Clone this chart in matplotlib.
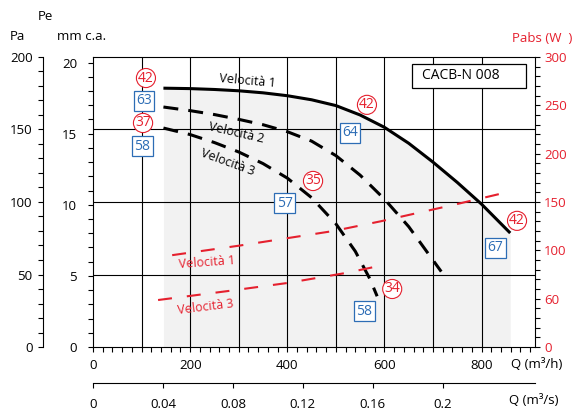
import matplotlib
matplotlib.use("Agg")
import matplotlib.pyplot as plt
from matplotlib.ticker import MultipleLocator
from matplotlib.patches import Rectangle

plt.rcParams['font.family'] = ['Open Sans', 'DejaVu Sans']

# pressure curves: flow (m3/h) vs Pe (Pa)
q_v1 = [145, 200, 250, 300, 350, 400, 450, 500, 550, 600, 650, 700, 750, 800, 859]
pe_v1 = [178.5, 178.2, 177.6, 176.7, 175.3, 173.3, 170.5, 166.5, 160, 151.5, 140.5,
         127.5, 113.5, 98.5, 78.6]
q_v2 = [145, 200, 250, 300, 350, 400, 450, 500, 550, 600, 650, 717]
pe_v2 = [165.5, 163, 160.3, 157, 153.3, 148.5, 142, 132, 118.5, 102, 83, 52]
q_v3 = [145, 200, 250, 300, 350, 400, 450, 500, 540, 570, 585]
pe_v3 = [151, 146.5, 141, 134.5, 126.5, 116.5, 103, 85, 66, 47, 35]

# absorbed power curves (right scale)
q_p1 = [163, 303, 495, 592, 680, 742, 843]
p_p1 = [95, 105, 120, 130, 140, 147, 159]
q_p3 = [134, 278, 400, 523, 581]
p_p3 = [48.6, 57.9, 66.2, 76.8, 83]

right_ticks = [0, 50, 100, 150, 200, 250, 300]
right_labels = ['0', '60', '100', '150', '200', '250', '300']
q_s_ticks = [0, 0.04, 0.08, 0.12, 0.16, 0.2]
q_s_labels = ['0', '0.04', '0.08', '0.12', '0.16', '0.2']

# noise level markers and sound markers
circles = [("42", 109, 185.5), ("37", 103, 154.5), ("35", 453, 114.5),
           ("42", 564, 167), ("34", 616, 40), ("42", 873, 87)]
boxes = [("63", 105, 169.7), ("58", 101, 138.6), ("64", 529, 147.6),
         ("57", 395, 99.3), ("67", 828, 68.3), ("58", 558, 24.8)]

RED = '#e5202e'
BLUE = '#2d6db5'
FS = 9.5

W, H = 572, 409
fig = plt.figure(figsize=(W / 100, H / 100), dpi=100)
ax = fig.add_axes([93 / W, 1 - 347 / H, 442 / W, 290 / H])

ax.set_xlim(0, 910)
ax.set_ylim(0, 200)

ax.fill_between(q_v1, pe_v1, 0, color='#f2f2f2', lw=0, zorder=0)
for q in range(100, 900, 100):
    ax.axvline(q, color='black', lw=0.8, zorder=1)
for p in (50, 100, 150):
    ax.axhline(p, color='black', lw=0.8, zorder=1)

ax.plot(q_v1, pe_v1, color='black', lw=2.2, zorder=3, solid_capstyle='butt')
ax.plot(q_v2, pe_v2, color='black', lw=2.2, ls=(0, (4.9, 3.3)), zorder=3)
ax.plot(q_v3, pe_v3, color='black', lw=2.2, ls=(0, (4.9, 3.3)), zorder=3)

# Pa axis, moved out to the left
ax.spines['left'].set_position(('outward', 36))
ax.spines['right'].set_visible(False)
ax.yaxis.set_major_locator(MultipleLocator(50))
ax.yaxis.set_minor_locator(MultipleLocator(10))
ax.xaxis.set_major_locator(MultipleLocator(200))
ax.xaxis.set_minor_locator(MultipleLocator(20))
ax.tick_params(which='both', direction='out', length=3.5, width=0.8, labelsize=FS)
ax.tick_params(axis='y', pad=4)
ax.tick_params(axis='x', pad=5)

# mm c.a. axis
mm = ax.secondary_yaxis(0, functions=(lambda p: p / 9.81, lambda m: m * 9.81))
mm.set_yticks([0, 5, 10, 15, 20])
mm.yaxis.set_minor_locator(MultipleLocator(1))
mm.tick_params(which='both', direction='out', length=3.5, width=0.8, labelsize=FS, pad=8)

# m3/s axis
qs = ax.secondary_xaxis(-0.124, functions=(lambda q: q / 3600, lambda s: s * 3600))
qs.set_xticks(q_s_ticks)
qs.set_xticklabels(q_s_labels)
qs.tick_params(direction='out', length=3.5, width=0.8, labelsize=FS, pad=7)

# power axis
ax3 = ax.twinx()
ax3.set_ylim(0, 300)
ax3.set_yticks(right_ticks)
ax3.set_yticklabels(right_labels)
ax3.yaxis.set_minor_locator(MultipleLocator(10))
ax3.tick_params(which='both', direction='out', length=3.5, width=0.8,
                labelsize=FS, labelcolor=RED, pad=3)
for s in ('left', 'top', 'bottom'):
    ax3.spines[s].set_visible(False)

ax3.plot(q_p1, p_p1, color=RED, lw=1.5, ls=(0, (6.7, 7.2)), zorder=4)
ax3.plot(q_p3, p_p3, color=RED, lw=1.5, ls=(0, (6.7, 7.2)), zorder=4)

tr = ax.transData
ax3.text(317, 183.4, "Velocità 1", transform=tr, fontsize=9, rotation=-5,
         ha='center', va='center')
ax3.text(294.5, 147.6, "Velocità 2", transform=tr, fontsize=9, rotation=-13,
         ha='center', va='center')
ax3.text(278, 127.6, "Velocità 3", transform=tr, fontsize=9, rotation=-20,
         ha='center', va='center')
ax3.text(235, 58, "Velocità 1", transform=tr, fontsize=9, rotation=4,
         ha='center', va='center', color=RED)
ax3.text(231, 27.5, "Velocità 3", transform=tr, fontsize=9, rotation=7,
         ha='center', va='center', color=RED)

for txt, q, p in circles:
    ax3.text(q, p, txt, transform=tr, fontsize=10, color=RED, ha='center', va='center',
             bbox=dict(boxstyle='circle,pad=0.12', fc='white', ec=RED, lw=0.8), zorder=6)
for txt, q, p in boxes:
    ax3.text(q, p, txt, transform=tr, fontsize=10, color=BLUE, ha='center', va='center',
             bbox=dict(boxstyle='square,pad=0.18', fc='white', ec=BLUE, lw=0.9), zorder=6)

ax3.add_patch(Rectangle((657, 178.6), 235, 16.6, transform=tr, fc='white',
                        ec='black', lw=0.9, zorder=6))
ax3.text(757, 187, "CACB-N 008", transform=tr, fontsize=10, ha='center',
         va='center', zorder=7)

def px(x, y):
    return x / W, 1 - y / H

fig.text(*px(45, 17), "Pe", fontsize=FS, ha='center', va='center')
fig.text(*px(17, 37), "Pa", fontsize=FS, ha='center', va='center')
fig.text(*px(82, 37), "mm c.a.", fontsize=FS, ha='center', va='center')
fig.text(*px(572, 38), "Pabs (W  )", fontsize=FS, ha='right', va='center', color=RED)
fig.text(*px(511, 364), "Q (m³/h)", fontsize=FS, ha='left', va='center')
fig.text(*px(509, 401), "Q (m³/s)", fontsize=FS, ha='left', va='center')

fig.savefig("out.png", dpi=100)
